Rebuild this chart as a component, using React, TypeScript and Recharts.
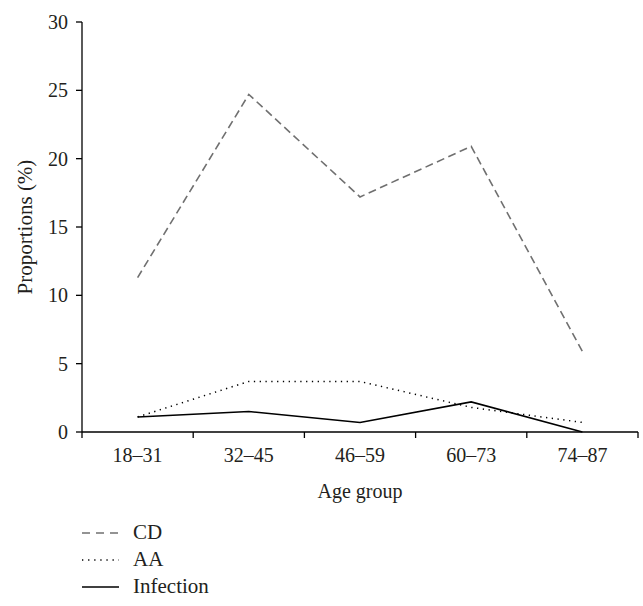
import React from 'react';
import { LineChart, Line, XAxis, YAxis, Legend } from 'recharts';

const ageGroups = ['18–31', '32–45', '46–59', '60–73', '74–87'];
const cdValues = [11.3, 24.7, 17.2, 20.9, 5.9];
const aaValues = [1.1, 3.7, 3.7, 1.8, 0.7];
const infectionValues = [1.1, 1.5, 0.7, 2.2, 0.0];
const yTicks = [0, 5, 10, 15, 20, 25, 30];

const data = ageGroups.map((g, i) => ({
  group: g,
  CD: cdValues[i],
  AA: aaValues[i],
  Infection: infectionValues[i],
}));

const FONT = '"Liberation Serif", "Times New Roman", serif';
const TEXT = '#231f20';
const FS = 20;
const W = 643;
const H = 606;
const PLOT_LEFT = 82;
const PLOT_RIGHT = 638;
const HALF_BAND = (PLOT_RIGHT - PLOT_LEFT) / 10;
const X_TICK_SIZE = 6;
const X_TICK_MARGIN = 8;

const XTick = (props: any) => {
  const { x, y, payload, index } = props;
  const isLast = index === ageGroups.length - 1;
  const axisY = y - X_TICK_SIZE - X_TICK_MARGIN;
  return (
    <g>
      <line x1={x - HALF_BAND} x2={x - HALF_BAND} y1={axisY} y2={axisY + X_TICK_SIZE} stroke="#000" strokeWidth={1.3} />
      {isLast && (
        <line x1={x + HALF_BAND} x2={x + HALF_BAND} y1={axisY} y2={axisY + X_TICK_SIZE} stroke="#000" strokeWidth={1.3} />
      )}
      <text x={x} y={y} dy="0.8em" textAnchor="middle" fontFamily={FONT} fontSize={FS} fill={TEXT}>
        {payload.value}
      </text>
    </g>
  );
};

const legendItems = [
  { name: 'CD', color: '#707070', dash: '8 6' },
  { name: 'AA', color: '#000', dash: '1.3 4.8' },
  { name: 'Infection', color: '#000', dash: undefined },
];

const LegendContent = () => (
  <div style={{ fontFamily: FONT, fontSize: 21, color: TEXT }}>
    {legendItems.map((it) => (
      <div key={it.name} style={{ display: 'flex', alignItems: 'center', height: 27 }}>
        <svg width={37} height={10} style={{ display: 'block' }}>
          <line x1={0} x2={37} y1={5} y2={5} stroke={it.color} strokeWidth={1.5} strokeDasharray={it.dash} />
        </svg>
        <span style={{ marginLeft: 14, lineHeight: '27px' }}>{it.name}</span>
      </div>
    ))}
  </div>
);

export default function App() {
  return (
    <div style={{ position: 'absolute', left: 0, top: 0, width: W, height: H, background: '#fff' }}>
      <LineChart width={W} height={H} data={data} margin={{ top: 22, right: W - PLOT_RIGHT, left: 0, bottom: 6 }}>
        <XAxis
          dataKey="group"
          height={87}
          padding={{ left: HALF_BAND, right: HALF_BAND }}
          tickLine={false}
          tickSize={X_TICK_SIZE}
          tickMargin={X_TICK_MARGIN}
          axisLine={{ stroke: '#000', strokeWidth: 1.3 }}
          tick={<XTick />}
          interval={0}
          label={{ value: 'Age group', position: 'insideTop', offset: 52, fontFamily: FONT, fontSize: FS, fill: TEXT }}
        />
        <YAxis
          width={PLOT_LEFT}
          domain={[0, 30]}
          ticks={yTicks}
          interval={0}
          tickSize={6}
          tickMargin={8}
          tickLine={{ stroke: '#000', strokeWidth: 1.3 }}
          axisLine={{ stroke: '#000', strokeWidth: 1.3 }}
          tick={{ fontFamily: FONT, fontSize: FS, fill: TEXT }}
          label={{
            value: 'Proportions (%)',
            angle: -90,
            position: 'insideLeft',
            offset: 25,
            textAnchor: 'middle',
            fontFamily: FONT,
            fontSize: 21,
            fill: TEXT,
          }}
        />
        <Legend
          verticalAlign="bottom"
          align="left"
          layout="horizontal"
          content={<LegendContent />}
          wrapperStyle={{ left: PLOT_LEFT, width: 300 }}
        />
        <Line dataKey="CD" stroke="#707070" strokeWidth={1.6} strokeDasharray="8 4.5" dot={false} isAnimationActive={false} />
        <Line dataKey="AA" stroke="#000" strokeWidth={1.5} strokeDasharray="1.3 4.5" dot={false} isAnimationActive={false} />
        <Line dataKey="Infection" stroke="#000" strokeWidth={1.6} dot={false} isAnimationActive={false} />
      </LineChart>
    </div>
  );
}
